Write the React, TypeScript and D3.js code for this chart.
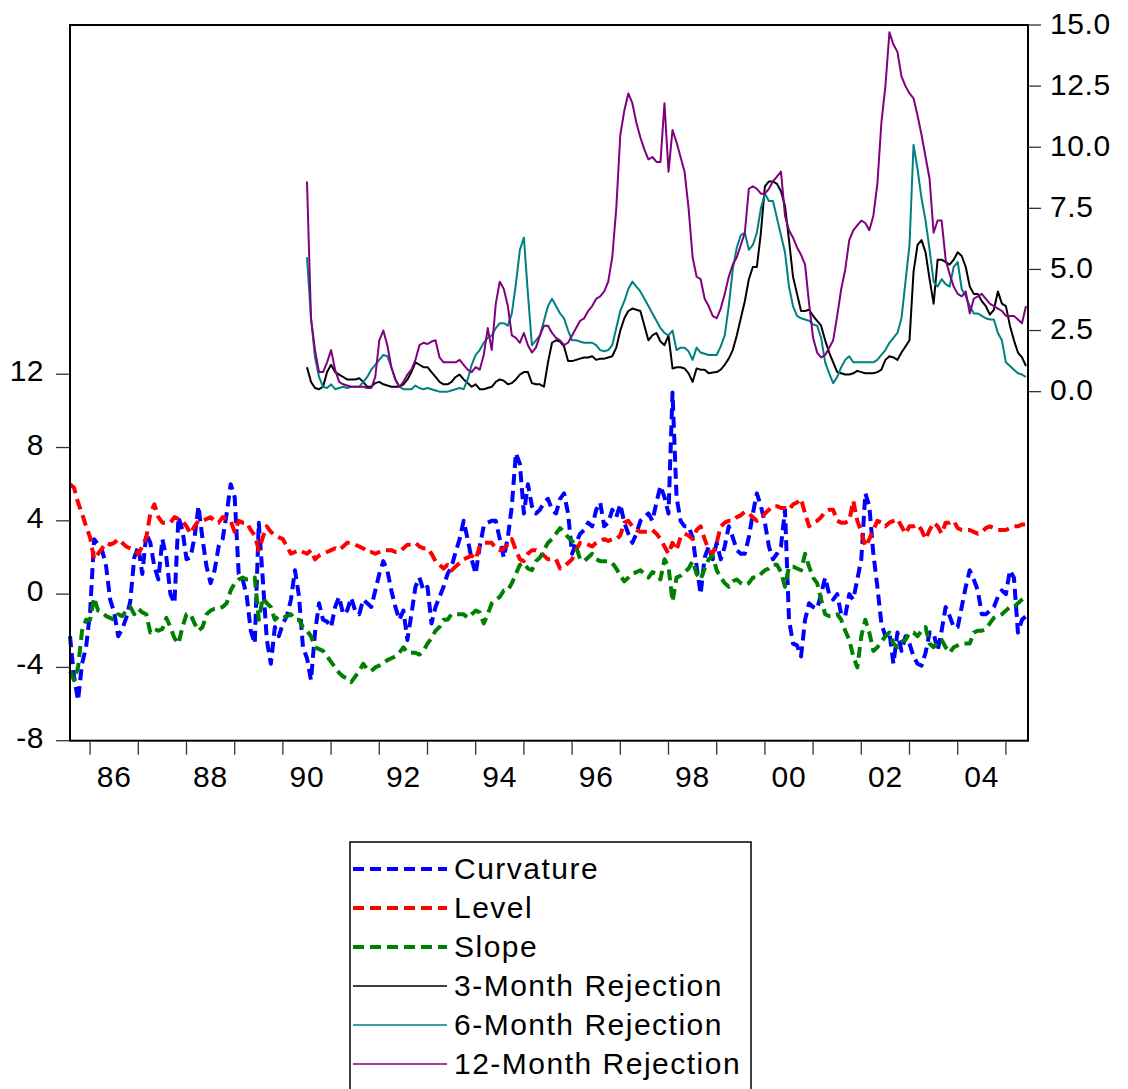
import React, { useEffect, useRef } from "react";
import * as d3 from "d3";

// monthly factors, 1985:08 - 2005:06 (left axis)
const curvature = [
  -2.3, -4.5, -5.8, -3.8, -2.9, -1.0, 3.0, 2.7, 2.4, 1.5,
  -0.3, -1.0, -2.3, -1.9, -1.3, -0.4, 2.0, 2.6, 1.1, 3.3,
  2.8, 1.5, 0.8, 3.0, 2.0, 0.0, -0.5, 4.2, 3.5, 1.9,
  2.0, 3.1, 4.8, 3.0, 1.5, 0.6, 1.3, 2.6, 3.0, 4.4,
  6.0, 5.3, 1.1, 0.8, -0.1, -2.0, -2.7, 3.9, 0.8, -2.5,
  -3.8, -1.8, -2.3, -1.6, -1.2, -0.3, 1.3, -0.1, -2.9, -3.5,
  -4.7, -2.1, -0.5, -1.4, -1.5, -1.8, -0.7, -0.15, -1.1, -0.9,
  -0.2, -0.9, -1.1, -0.3, -0.5, -0.7, 0.2, 1.1, 1.8, 1.3,
  0.2, -0.7, -1.4, -0.9, -2.5, -1.1, 0.4, 0.9, 0.2, 0.4,
  -1.6, -0.7, -0.15, 0.4, 1.1, 1.5, 2.3, 3.0, 4.0, 3.0,
  1.9, 1.1, 2.6, 3.7, 3.9, 4.0, 4.0, 3.0, 2.0, 3.1,
  4.8, 7.7, 7.1, 4.4, 6.0, 4.8, 4.4, 4.6, 5.0, 5.2,
  4.6, 4.4, 5.2, 5.5, 4.4, 2.2, 2.8, 3.3, 3.5, 3.9,
  3.7, 4.6, 5.0, 3.7, 3.9, 4.6, 4.2, 4.9, 3.9, 3.3,
  2.8, 3.3, 4.0, 4.2, 4.4, 4.0, 5.0, 5.9, 5.3, 4.4,
  11.0, 5.3, 4.0, 3.7, 3.7, 3.1, 1.5, 0.0, 2.0, 2.6,
  1.9, 2.8, 1.9, 2.6, 3.7, 3.1, 2.4, 2.2, 2.2, 3.1,
  4.4, 5.5, 4.8, 3.9, 2.6, 1.9, 2.2, 2.6, 4.6, -1.4,
  -2.7, -2.8, -3.4, -1.4, -0.5, -0.7, -0.8, 0.0, 0.9, 0.0,
  -0.3, 0.0, -1.1, -1.2, 0.0, -0.3, 0.8, 1.9, 5.5, 4.8,
  2.2, 0.4, -1.6, -2.3, -2.1, -3.8, -2.1, -3.1, -2.3, -2.7,
  -3.4, -3.8, -3.9, -3.2, -2.1, -2.1, -3.1, -2.0, -0.7, -1.2,
  -1.8, -1.8, -0.7, 0.4, 1.3, 0.8, 0.2, -1.1, -1.1, -0.9,
  -0.7, -0.15, 0.2, 0.0, 1.3, 0.9, -2.1, -1.4, -1.2,
];

const level = [
  6.0, 5.8, 5.0, 4.4, 3.7, 3.1, 1.9, 2.2, 2.5, 2.8,
  2.7, 2.8, 3.0, 2.8, 2.6, 2.5, 2.4, 2.2, 2.6, 3.1,
  4.4, 4.9, 4.2, 3.9, 3.9, 3.9, 4.2, 4.1, 4.0, 3.7,
  3.3, 3.7, 4.0, 4.0, 4.1, 4.2, 4.0, 3.9, 4.2, 4.1,
  4.0, 3.4, 4.0, 3.9, 3.9, 3.5, 3.2, 2.4, 3.1, 3.7,
  3.4, 3.2, 3.1, 3.0, 2.6, 2.2, 2.3, 2.4, 2.3, 2.2,
  2.4, 1.9, 2.1, 2.2, 2.3, 2.4, 2.5, 2.4, 2.6, 2.8,
  2.8, 2.7, 2.6, 2.5, 2.3, 2.3, 2.2, 2.3, 2.4, 2.4,
  2.4, 2.3, 2.3, 2.5, 2.7, 2.7, 2.8, 2.6, 2.5, 2.5,
  2.2, 1.8, 1.6, 1.4, 1.6, 1.3, 1.5, 1.7, 1.9, 2.0,
  2.1, 1.9, 2.6, 2.8, 2.8, 2.8, 2.5, 2.4, 2.5, 2.7,
  3.0, 2.4, 1.9, 1.8, 2.2, 2.4, 2.4, 2.3, 2.1, 1.9,
  1.9, 1.9, 1.4, 1.5, 1.7, 1.9, 2.4, 2.8, 2.8, 2.7,
  2.6, 2.8, 2.9, 3.0, 2.9, 3.0, 3.0, 3.2, 3.9, 4.0,
  3.7, 3.5, 3.4, 3.4, 3.4, 3.5, 3.3, 3.0, 2.6, 2.2,
  2.8, 2.4, 3.1, 3.3, 3.2, 3.0, 3.5, 3.7, 3.0, 2.4,
  2.2, 2.8, 3.7, 3.9, 4.0, 4.0, 4.2, 4.3, 4.5, 4.4,
  4.2, 4.0, 4.2, 4.4, 4.6, 4.8, 4.8, 4.7, 4.7, 4.6,
  4.9, 5.0, 5.2, 4.4, 3.7, 3.9, 4.0, 4.2, 4.5, 4.6,
  4.6, 4.0, 3.9, 3.9, 4.0, 5.1, 4.0, 3.4, 2.6, 3.0,
  3.5, 4.0, 3.9, 3.7, 3.9, 4.0, 4.1, 3.7, 3.3, 3.7,
  3.7, 3.8, 3.5, 3.0, 3.5, 3.9, 3.7, 3.3, 3.9, 3.9,
  4.0, 3.6, 3.5, 3.5, 3.5, 3.4, 3.3, 3.4, 3.6, 3.7,
  3.6, 3.5, 3.5, 3.5, 3.6, 3.7, 3.7, 3.8, 3.8,
];

const slope = [
  -4.2, -4.7, -4.0, -2.0, -1.4, -1.4, -0.2, -0.9, -1.0, -1.2,
  -1.3, -1.4, -1.1, -1.2, -0.9, -0.7, -1.1, -0.8, -1.0, -1.1,
  -2.1, -1.9, -2.0, -1.9, -1.3, -1.8, -2.4, -2.7, -1.8, -1.1,
  -1.1, -1.6, -2.0, -1.8, -1.1, -0.9, -0.8, -0.8, -0.7, -0.5,
  0.2, 0.6, 0.8, 0.9, 0.8, 0.8, 0.9, -1.4, -0.2, -0.5,
  -0.7, -1.4, -1.2, -1.3, -1.2, -1.1, -1.4, -1.4, -1.8, -2.0,
  -2.3, -2.9, -3.0, -3.1, -3.4, -3.7, -4.0, -4.3, -4.5, -4.6,
  -4.8, -4.5, -4.2, -3.8, -4.1, -4.2, -4.0, -3.9, -3.8, -3.6,
  -3.5, -3.4, -3.2, -2.9, -3.2, -3.2, -3.2, -3.3, -3.1, -2.7,
  -2.4, -2.0, -1.8, -1.4, -1.4, -1.1, -1.1, -1.1, -1.1, -1.3,
  -1.1, -0.9, -1.0, -1.6, -1.1, -0.5, -0.3, -0.15, 0.2, 0.2,
  0.6, 1.1, 1.6, 1.7, 1.4, 1.3, 1.8, 2.0, 2.4, 2.8,
  3.0, 3.3, 3.6, 3.4, 3.1, 2.9, 2.6, 1.9, 1.8, 2.0,
  2.2, 1.9, 1.8, 1.8, 1.8, 1.7, 1.4, 1.0, 0.7, 0.9,
  1.1, 1.2, 1.3, 1.1, 0.9, 1.2, 1.1, 0.8, 1.9, 1.5,
  -0.4, 0.9, 1.0, 1.2, 1.4, 1.8, 1.1, 0.8, 1.4, 1.9,
  2.1, 1.3, 0.9, 0.6, 0.4, 0.7, 0.8, 0.6, 0.5, 0.6,
  0.9, 0.9, 1.1, 1.3, 1.4, 1.6, 1.6, 1.2, 0.4, 1.5,
  1.5, 1.4, 1.3, 2.2, 1.5, 0.9, 0.6, -0.3, -1.1, -1.2,
  -1.2, -1.1, -1.4, -2.0, -2.5, -3.4, -4.0, -2.3, -1.4, -2.1,
  -3.1, -2.9, -2.6, -2.3, -2.1, -2.7, -2.9, -2.6, -2.5, -2.1,
  -2.1, -2.3, -2.0, -1.8, -2.7, -2.9, -2.6, -2.5, -2.9, -3.2,
  -2.9, -2.8, -2.7, -2.7, -2.7, -2.1, -2.0, -2.0, -1.9, -1.6,
  -1.3, -1.2, -1.1, -0.9, -0.7, -0.7, -0.5, -0.3, -0.15,
];

// rejection frequencies, 1990:07 - 2005:06 (right axis)
const rej3m = [
  1.0, 0.4, 0.15, 0.1, 0.2, 0.8, 1.1, 0.8, 0.7, 0.6,
  0.5, 0.5, 0.5, 0.55, 0.4, 0.2, 0.2, 0.35, 0.4, 0.3,
  0.25, 0.2, 0.2, 0.2, 0.3, 0.5, 0.8, 1.2, 1.1, 1.0,
  1.0, 0.8, 0.6, 0.4, 0.3, 0.3, 0.4, 0.6, 0.7, 0.5,
  0.35, 0.2, 0.3, 0.1, 0.1, 0.15, 0.2, 0.4, 0.5, 0.45,
  0.3, 0.35, 0.5, 0.7, 0.8, 0.8, 0.35, 0.3, 0.3, 0.2,
  1.2, 2.0, 2.1, 2.05, 1.85, 1.25, 1.25, 1.3, 1.35, 1.4,
  1.4, 1.45, 1.3, 1.35, 1.35, 1.4, 1.45, 1.8, 2.5, 3.0,
  3.3, 3.4, 3.35, 3.3, 2.7, 2.1, 2.3, 2.4, 2.05, 1.9,
  2.3, 0.95, 1.0, 1.0, 0.95, 0.75, 0.4, 0.95, 0.9, 0.9,
  0.75, 0.78, 0.8, 0.9, 1.1, 1.35, 1.7, 2.3, 3.0, 3.7,
  4.6, 5.1, 5.1, 6.5, 8.4, 8.6, 8.6, 8.5, 8.2, 7.6,
  6.2, 4.7, 4.0, 3.3, 3.3, 3.35, 3.1, 2.9, 2.7, 2.1,
  1.6, 1.2, 0.8, 0.75, 0.7, 0.7, 0.75, 0.85, 0.8, 0.75,
  0.75, 0.75, 0.8, 0.9, 1.3, 1.45, 1.4, 1.3, 1.6, 1.85,
  2.1, 4.9, 6.0, 6.2, 5.7, 4.6, 3.6, 5.4, 5.4, 5.3,
  5.2, 5.4, 5.7, 5.55, 5.1, 4.3, 4.0, 4.0, 3.7, 3.5,
  3.15, 3.35, 4.1, 3.6, 3.5, 2.7, 2.1, 1.6, 1.4, 1.05,
];

const rej6m = [
  5.5, 3.0, 1.4, 0.6, 0.2, 0.15, 0.3, 0.1, 0.15, 0.2,
  0.15, 0.2, 0.2, 0.2, 0.4, 0.6, 0.9, 1.1, 1.3, 1.5,
  1.45, 1.0, 0.5, 0.2, 0.1, 0.1, 0.1, 0.25, 0.15, 0.1,
  0.15, 0.1, 0.05, 0.0, 0.0, 0.0, 0.05, 0.1, 0.15, 0.1,
  0.5, 1.1, 1.5, 1.7, 2.0, 2.2, 2.3, 2.6, 2.8, 2.8,
  2.7, 3.2, 4.4, 5.8, 6.3, 4.0, 1.9, 2.1, 2.3, 2.9,
  3.5, 3.8, 3.5, 3.2, 3.0, 2.5, 2.1, 2.1, 2.05, 2.0,
  2.0, 2.0, 1.9, 1.7, 1.65, 1.7, 1.9, 2.6, 3.3, 3.7,
  4.2, 4.5, 4.3, 4.1, 3.8, 3.5, 3.2, 2.9, 2.6, 2.4,
  2.3, 2.5, 1.7, 1.8, 1.8, 1.65, 1.3, 1.8, 1.6, 1.55,
  1.5, 1.5, 1.5, 1.85, 2.3, 3.5, 5.0, 5.9, 6.4, 6.5,
  5.8, 6.0, 6.5, 7.5, 8.1, 7.8, 7.8, 7.1, 6.4, 5.7,
  4.3, 3.5, 3.1, 3.0, 2.95, 2.9, 2.75, 2.7, 2.2, 1.2,
  0.75, 0.35, 0.6, 1.0, 1.3, 1.45, 1.2, 1.2, 1.2, 1.2,
  1.2, 1.2, 1.3, 1.5, 1.7, 2.0, 2.2, 2.4, 3.0, 4.5,
  6.0, 10.1, 9.1, 7.9, 7.0, 5.8, 4.5, 4.3, 4.6, 4.4,
  4.3, 5.1, 5.3, 4.2, 3.9, 3.5, 3.2, 3.2, 3.1, 3.0,
  2.95, 2.95, 2.4, 2.1, 1.2, 1.05, 0.9, 0.75, 0.7, 0.6,
];

const rej12m = [
  8.6, 3.0, 1.7, 0.8, 0.8, 1.2, 1.7, 0.9, 0.4, 0.3,
  0.25, 0.2, 0.2, 0.2, 0.2, 0.15, 0.15, 0.6, 2.1, 2.5,
  1.9, 1.0, 0.5, 0.2, 0.4, 0.7, 0.9, 1.3, 1.9, 2.0,
  1.95, 2.05, 2.1, 1.4, 1.2, 1.2, 1.2, 1.2, 1.3, 1.1,
  0.9, 0.8, 1.0, 0.9, 1.5, 2.6, 1.7, 3.6, 4.5, 4.2,
  3.5, 2.3, 2.2, 2.0, 2.4, 1.9, 1.6, 1.8, 2.3, 2.7,
  2.7, 2.4, 2.2, 2.1, 1.9, 2.0, 2.3, 2.6, 2.9, 3.0,
  3.3, 3.5, 3.8, 3.9, 4.1, 4.5, 5.5, 7.5, 10.5, 11.5,
  12.2, 11.8, 11.0, 10.4, 9.9, 9.5, 9.6, 9.4, 9.4, 11.8,
  9.0, 10.7, 10.2, 9.6, 9.0, 7.5, 5.5, 4.7, 4.6, 3.8,
  3.5, 3.1, 3.0, 3.4, 4.0, 4.7, 5.2, 5.5, 6.0, 6.5,
  8.3, 8.4, 8.3, 8.1, 8.1, 8.3, 8.6, 8.8, 9.0, 7.2,
  6.6, 6.3, 5.9, 5.6, 5.2, 3.6, 2.2, 1.6, 1.4, 1.5,
  1.8, 2.1, 3.1, 4.2, 5.0, 6.2, 6.6, 6.8, 7.0, 6.9,
  6.6, 7.2, 8.5, 11.0, 12.5, 14.7, 14.2, 13.9, 12.9, 12.5,
  12.2, 12.0, 11.3, 10.5, 9.6, 8.7, 6.5, 7.0, 7.0, 5.4,
  4.8, 4.3, 4.0, 3.9, 4.1, 3.2, 3.8, 3.9, 4.0, 3.8,
  3.6, 3.5, 3.4, 3.3, 3.1, 3.1, 3.1, 2.95, 2.8, 3.5,
];

const leftTicks = [-8, -4, 0, 4, 8, 12];
const rightTicks = [0, 2.5, 5, 7.5, 10, 12.5, 15];
const yearTicks = d3.range(1986, 2006);
const yearLabels = ["86", "88", "90", "92", "94", "96", "98", "00", "02", "04"];

const factorStart = 1985 + 7 / 12; // 1985:08
const rejStart = 1990 + 6 / 12; // 1990:07

const FONT = "'Liberation Sans', Arial, sans-serif";

const App = () => {
  const svgRef = useRef<SVGSVGElement>(null);

  useEffect(() => {
    if (!svgRef.current) return;
    const svg = d3.select(svgRef.current);
    svg.selectAll("*").remove();

    const left = 70, right = 1028, top = 25, bottom = 740.7;

    const x = d3
      .scaleLinear()
      .domain([factorStart, factorStart + 238.5 / 12])
      .range([left, right]);
    const yL = d3.scaleLinear().domain([-8, 31.06]).range([bottom, top]);
    const yR = d3.scaleLinear().domain([-14.28, 15]).range([bottom, top]);

    svg
      .append("rect")
      .attr("width", 1128)
      .attr("height", 1089)
      .attr("fill", "white");

    const series = [
      { name: "Curvature", data: curvature, start: factorStart, y: yL, color: "#0000ff", dash: true },
      { name: "Level", data: level, start: factorStart, y: yL, color: "#ff0000", dash: true },
      { name: "Slope", data: slope, start: factorStart, y: yL, color: "#008000", dash: true },
      { name: "3-Month Rejection", data: rej3m, start: rejStart, y: yR, color: "#000000", dash: false },
      { name: "6-Month Rejection", data: rej6m, start: rejStart, y: yR, color: "#008080", dash: false },
      { name: "12-Month Rejection", data: rej12m, start: rejStart, y: yR, color: "#800080", dash: false },
    ];

    const plot = svg.append("g");
    series.forEach((s) => {
      const line = d3
        .line<number>()
        .x((_, i) => x(s.start + i / 12))
        .y((d) => s.y(d));
      plot
        .append("path")
        .attr("d", line(s.data))
        .attr("fill", "none")
        .attr("stroke", s.color)
        .attr("stroke-width", s.dash ? 4 : 2)
        .attr("stroke-dasharray", s.dash ? "11,6" : null)
        .attr("stroke-linejoin", "round");
    });

    // frame
    svg
      .append("rect")
      .attr("x", left)
      .attr("y", top)
      .attr("width", right - left)
      .attr("height", bottom - top)
      .attr("fill", "none")
      .attr("stroke", "black")
      .attr("stroke-width", 2);

    const tickColor = "#333";

    // left axis
    const gl = svg.append("g");
    leftTicks.forEach((v) => {
      gl.append("line")
        .attr("x1", 56).attr("x2", left)
        .attr("y1", yL(v)).attr("y2", yL(v))
        .attr("stroke", tickColor).attr("stroke-width", 1.3);
      gl.append("text")
        .attr("x", 44)
        .attr("y", yL(v) + 7)
        .attr("text-anchor", "end")
        .style("font-family", FONT)
        .style("font-size", "30px")
        .style("letter-spacing", "0.5px")
        .text(String(v));
    });

    // right axis
    const gr = svg.append("g");
    rightTicks.forEach((v) => {
      gr.append("line")
        .attr("x1", right).attr("x2", 1041)
        .attr("y1", yR(v)).attr("y2", yR(v))
        .attr("stroke", tickColor).attr("stroke-width", 1.3);
      gr.append("text")
        .attr("x", 1050)
        .attr("y", yR(v) + 8.5)
        .style("font-family", FONT)
        .style("font-size", "30px")
        .style("letter-spacing", "0.6px")
        .text(v.toFixed(1));
    });

    // bottom axis
    const gb = svg.append("g");
    yearTicks.forEach((yr) => {
      gb.append("line")
        .attr("x1", x(yr)).attr("x2", x(yr))
        .attr("y1", bottom + 1).attr("y2", bottom + 14)
        .attr("stroke", tickColor).attr("stroke-width", 1.3);
    });
    yearLabels.forEach((lab, i) => {
      gb.append("text")
        .attr("x", x(1986 + 2 * i + 0.5))
        .attr("y", 787)
        .attr("text-anchor", "middle")
        .style("font-family", FONT)
        .style("font-size", "30px")
        .style("letter-spacing", "0.8px")
        .text(lab);
    });

    // legend
    const lg = svg.append("g");
    lg.append("rect")
      .attr("x", 350)
      .attr("y", 842)
      .attr("width", 401)
      .attr("height", 270)
      .attr("fill", "white")
      .attr("stroke", "black")
      .attr("stroke-width", 1.5);
    series.forEach((s, i) => {
      const ly = 869 + i * 39;
      lg.append("line")
        .attr("x1", 353).attr("x2", 447)
        .attr("y1", ly).attr("y2", ly)
        .attr("stroke", s.color)
        .attr("stroke-width", s.dash ? 4 : 1.5)
        .attr("stroke-dasharray", s.dash ? "11,6" : null);
      lg.append("text")
        .attr("x", 454)
        .attr("y", ly + 9.5)
        .style("font-family", FONT)
        .style("font-size", "30px")
        .style("letter-spacing", "1.5px")
        .text(s.name);
    });
  }, []);

  return (
    <svg
      ref={svgRef}
      width={1128}
      height={1089}
      style={{ position: "absolute", left: 0, top: 0, display: "block" }}
    />
  );
};

export default App;
